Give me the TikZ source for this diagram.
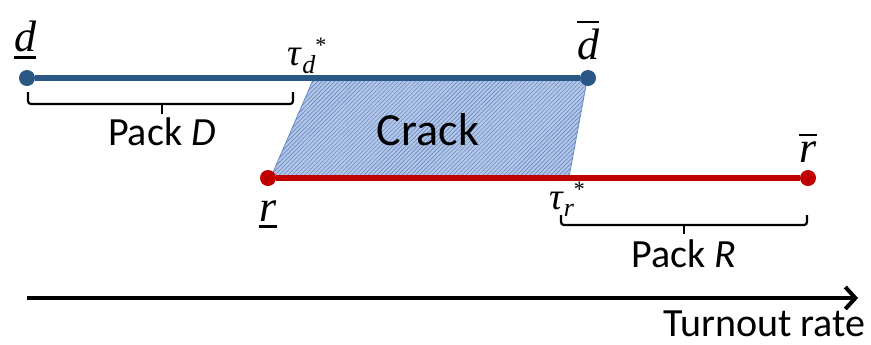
\documentclass[tikz,border=0pt]{standalone}
\usepackage{fontspec}
\setmainfont{Carlito}
\newfontfamily\varfont{Liberation Serif}
\usetikzlibrary{arrows.meta,patterns.meta}
\definecolor{dlinec}{HTML}{2A5885}
\definecolor{rlinec}{HTML}{C00000}
\definecolor{crackc}{HTML}{B4C7E7}
\definecolor{hatchc}{HTML}{6688C4}
% bounds and thresholds as italic letters
\newcommand\lowbar[1]{\vtop{\hbox{\varfont\itshape #1}\kern1.8pt\hrule height 1.4pt}}
\newcommand\highbar[1]{\vbox{\hrule height 1.4pt\kern2.6pt\hbox{\varfont\itshape #1}}}
\newcommand\thr[1]{{\varfont\itshape\char"03C4\kern0.6pt\raisebox{-3.6pt}{\fontsize{13}{14}\selectfont #1}\raisebox{6.5pt}{\fontsize{11}{12}\selectfont\upshape *}}}
\tikzset{
  dot/.style={circle, inner sep=0pt, minimum size=8pt},
  ddot/.style={dot, fill=dlinec},
  rdot/.style={dot, fill=rlinec},
  dline/.style={draw=dlinec, line width=2.6pt},
  rline/.style={draw=rlinec, line width=2.6pt},
  brace/.style={draw, line width=1.1pt, rounded corners=1.5pt},
  lbl/.style={font=\fontsize{20}{24}\selectfont, inner sep=0pt},
  bnd/.style={font=\fontsize{22}{26}\selectfont, inner sep=0pt},
  tau/.style={font=\fontsize{19}{21}\selectfont, inner sep=0pt},
  axis/.style={line width=2.4pt, -{Straight Barb[length=5pt,width=11pt,line width=2pt]}},
}

\begin{document}
\begin{tikzpicture}[x=0.5pt, y=-0.5pt]
  \useasboundingbox (0,0) rectangle (871,344);

  % crack region
  \coordinate (ctl) at (313,80);
  \coordinate (ctr) at (587,80);
  \coordinate (cbr) at (569,177);
  \coordinate (cbl) at (271,177);
  \fill[crackc] (ctl) -- (ctr) -- (cbr) -- (cbl) -- cycle;
  \draw[hatchc, line width=0.4pt, pattern={Lines[angle=45, distance=1.5pt, line width=0.3pt]}, pattern color=hatchc]
    (ctl) -- (ctr) -- (cbr) -- (cbl) -- cycle;
  \node[lbl, font=\fontsize{23}{26}\selectfont] (crack) at (428,130) {Crack};

  % D side
  \node[ddot] (dlo) at (27,78) {};
  \node[ddot] (dhi) at (588,78) {};
  \draw[dline] (dlo) -- (dhi);
  \node[bnd] (dlolbl) at (25,40) {\lowbar{d}};
  \node[bnd] (dhilbl) at (588,40) {\highbar{d}};
  \node[tau] (dtau) at (307,56) {\thr{d}};

  \draw[brace] (28,92) -- (28,104) -- (293,104) -- (293,92);
  \draw[brace] (162,104) -- (162,114);
  \node[lbl] (packd) at (162,132) {Pack \textit{D}};

  % R side
  \node[rdot] (rlo) at (268,178) {};
  \node[rdot] (rhi) at (808,178) {};
  \draw[rline] (rlo) -- (rhi);
  \node[bnd] (rlolbl) at (268,214) {\lowbar{r}};
  \node[bnd] (rhilbl) at (808,148) {\highbar{r}};
  \node[tau] (rtau) at (567,199) {\thr{r}};

  \draw[brace] (561,215) -- (561,225) -- (807,225) -- (807,215);
  \draw[brace] (684,225) -- (684,234);
  \node[lbl] (packr) at (684,254) {Pack \textit{R}};

  % axis
  \coordinate (ax0) at (27,298);
  \coordinate (ax1) at (858,298);
  \draw[axis] (ax0) -- (ax1);
  \node[lbl, anchor=east] (turnout) at (866,324) {Turnout rate};
\end{tikzpicture}
\end{document}
